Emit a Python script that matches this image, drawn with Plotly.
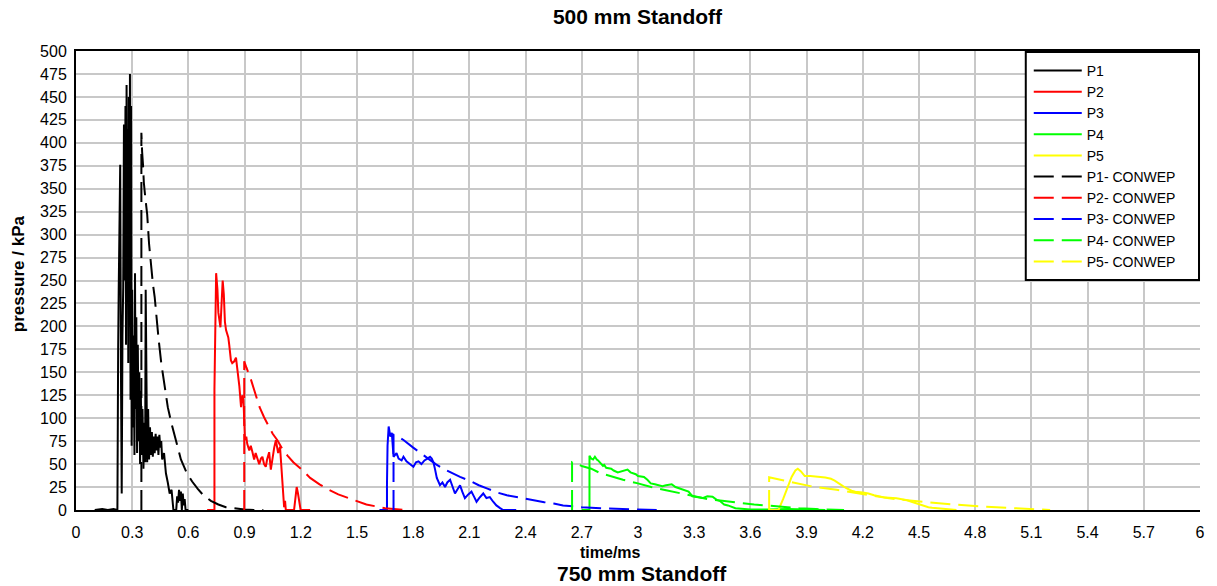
import plotly.graph_objects as go

# ---------------- data (time in ms, pressure in kPa) ----------------
p1_t = [0.10, 0.14, 0.17, 0.20, 0.221, 0.222, 0.225, 0.228, 0.231, 0.236, 0.240, 0.244, 0.248, 0.252,
        0.256, 0.260, 0.264, 0.267, 0.270, 0.273, 0.276, 0.279, 0.282, 0.285, 0.288, 0.291, 0.294,
        0.297, 0.300, 0.304, 0.308, 0.312, 0.315, 0.318, 0.322, 0.326, 0.330, 0.334, 0.338, 0.342,
        0.346, 0.350, 0.355, 0.360, 0.365, 0.369, 0.372, 0.376, 0.380, 0.385, 0.390, 0.395, 0.400,
        0.405, 0.410, 0.415, 0.420, 0.425, 0.430, 0.435, 0.440, 0.445, 0.450, 0.455, 0.460, 0.470,
        0.480, 0.490, 0.500, 0.510, 0.515, 0.520, 0.535, 0.540, 0.545, 0.550, 0.555, 0.560, 0.565,
        0.570, 0.575, 0.580, 0.585, 0.600]
p1_p = [0, 1, 0, 1, 0, 110, 175, 240, 309, 376, 150, 18, 190, 243,
        420, 250, 440, 180, 463, 230, 415, 160, 450, 200, 475, 120, 440,
        70, 240, 90, 190, 60, 258, 110, 210, 62, 180, 75, 150, 50,
        130, 60, 110, 45, 95, 52, 240, 140, 52, 110, 55, 90, 60,
        85, 58, 80, 62, 83, 65, 80, 60, 82, 68, 75, 55, 62,
        40, 30, 18, 22, 5, 0, 0, 15, 8, 22, 10, 20, 0,
        18, 5, 12, 0, 0]

p2_t = [0.70, 0.739, 0.739, 0.748, 0.755, 0.760, 0.771, 0.776, 0.783, 0.789, 0.795, 0.801, 0.808,
        0.813, 0.818, 0.827, 0.834, 0.845, 0.854, 0.863, 0.872, 0.881, 0.888, 0.894, 0.902, 0.909,
        0.914, 0.925, 0.933, 0.942, 0.951, 0.959, 0.969, 0.978, 0.987, 0.995, 1.004, 1.013, 1.020,
        1.031, 1.040, 1.047, 1.058, 1.067, 1.073, 1.079, 1.089, 1.100, 1.111, 1.116, 1.120, 1.164,
        1.172, 1.178, 1.185, 1.193, 1.199, 1.250]
p2_p = [0, 0, 131, 258, 240, 215, 199, 230, 250, 235, 205, 196, 192,
        188, 180, 163, 160, 162, 166, 152, 135, 112, 125, 120, 76, 80,
        72, 65, 70, 63, 55, 62, 54, 50, 56, 58, 50, 47, 55,
        63, 44, 55, 68, 76, 70, 62, 69, 40, 3, 10, 0, 0,
        15, 25, 18, 5, 0, 0]

p3_t = [1.62, 1.660, 1.660, 1.663, 1.669, 1.674, 1.678, 1.686, 1.695, 1.711, 1.722, 1.738, 1.748,
        1.764, 1.780, 1.801, 1.815, 1.828, 1.844, 1.860, 1.876, 1.890, 1.899, 1.908, 1.917, 1.926,
        1.943, 1.956, 1.970, 1.982, 1.997, 2.009, 2.023, 2.035, 2.050, 2.062, 2.076, 2.094, 2.111,
        2.126, 2.138, 2.152, 2.174, 2.191, 2.209, 2.227, 2.244, 2.264, 2.280, 2.350]
p3_p = [0, 0, 27, 70, 91, 85, 80, 84, 58, 62, 56, 54, 58,
        53, 50, 47, 52, 53, 50, 54, 56, 58, 56, 52, 44, 35,
        27, 30, 25, 30, 33, 25, 18, 22, 27, 20, 13, 17, 20,
        14, 9, 13, 18, 13, 14, 9, 5, 2, 0, 0]

p4_t = [2.70, 2.741, 2.741, 2.75, 2.76, 2.77, 2.78, 2.787, 2.80, 2.813, 2.82, 2.83, 2.857, 2.87,
        2.892, 2.91, 2.944, 2.96, 2.988, 3.00, 3.032, 3.05, 3.068, 3.09, 3.13, 3.15, 3.18, 3.20,
        3.24, 3.27, 3.29, 3.32, 3.345, 3.37, 3.398, 3.42, 3.436, 3.46, 3.48, 3.52, 3.555, 3.60,
        3.70, 3.80, 3.90, 4.00]
p4_p = [0, 0, 59, 56, 55, 58, 55, 54, 51, 48, 49, 46, 45, 43,
        41, 42, 44, 41, 39, 37, 36, 33, 29, 28, 26, 27, 28, 25,
        22.5, 20, 15, 14, 13, 15, 14.5, 11, 10, 6, 5, 2, 1, 0.5,
        0.5, 1, 0.5, 0]

p5_t = [3.70, 3.750, 3.775, 3.80, 3.82, 3.84, 3.853, 3.87, 3.89, 3.92, 3.95, 3.98, 4.00, 4.03,
        4.05, 4.08, 4.11, 4.14, 4.16, 4.20, 4.23, 4.26, 4.29, 4.32, 4.38, 4.43, 4.46, 4.50,
        4.55, 4.57, 4.63, 4.65, 4.70]
p5_p = [0, 0, 12, 26, 36, 43, 45, 42, 37, 37, 36.5, 36, 35.5, 34,
        32, 28, 24, 21, 20, 19, 18, 16, 14.5, 13.5, 12.7, 11, 9, 6,
        3, 2.5, 1, 0.5, 0]

c1_t = [0.349, 0.349, 0.353, 0.358, 0.362, 0.37, 0.38, 0.39, 0.40, 0.41, 0.42, 0.43, 0.44, 0.455,
        0.47, 0.49, 0.51, 0.53, 0.56, 0.59, 0.62, 0.65, 0.68, 0.72, 0.76, 0.80, 0.85, 0.90, 0.95, 1.00]
c1_p = [0, 411, 390, 375, 357, 340, 322, 290, 265, 247, 232, 205, 188, 160,
        138, 112, 94, 78, 55, 41, 31, 23, 16, 10, 6, 3, 1.5, 0.5, 0, 0]

c2_t = [0.898, 0.898, 0.91, 0.934, 0.96, 0.98, 1.004, 1.03, 1.05, 1.075, 1.10, 1.13, 1.16, 1.20,
        1.25, 1.30, 1.35, 1.40, 1.49, 1.55, 1.65, 1.72, 1.75]
c2_p = [0, 162, 155, 142, 125, 112, 101, 91, 83, 76, 67, 59, 52, 45,
        35, 28, 22, 17, 10, 6, 2, 1, 0]

c3_t = [1.695, 1.695, 1.72, 1.75, 1.80, 1.84, 1.88, 1.92, 1.96, 2.00, 2.05, 2.10, 2.15, 2.20,
        2.25, 2.30, 2.35, 2.40, 2.45, 2.50, 2.55, 2.60, 2.65, 2.70, 2.80, 2.90, 3.00, 3.10]
c3_p = [0, 82, 80, 76, 68, 62, 55, 50, 45, 41, 36, 32, 27, 23,
        19, 16, 14, 12, 10, 8.5, 7, 5, 4, 3, 2, 1, 0.5, 0]

c4_t = [2.648, 2.648, 2.70, 2.75, 2.80, 2.85, 2.92, 3.00, 3.07, 3.15, 3.23, 3.30, 3.37, 3.45,
        3.53, 3.62, 3.70, 3.78, 3.86, 3.95, 4.05, 4.10]
c4_p = [0, 52, 48, 45, 40, 37, 33, 29, 25, 21.5, 18, 15, 12, 10,
        8, 6, 4.7, 3, 2, 1, 0.3, 0]

c5_t = [3.70, 3.70, 3.76, 3.83, 3.92, 4.06, 4.18, 4.34, 4.52, 4.68, 4.86, 5.05, 5.20]
c5_p = [0, 35.6, 33, 30, 26, 22, 18, 12.7, 9, 6, 3.6, 1.8, 0]

names_exp = ["P1", "P2", "P3", "P4", "P5"]
names_con = ["P1- CONWEP", "P2- CONWEP", "P3- CONWEP", "P4- CONWEP", "P5- CONWEP"]
colors = ["#000000", "#ff0000", "#0000ff", "#00ff00", "#ffff00"]

x_ticks = [round(0.3 * i, 1) for i in range(21)]
x_tick_text = ["0", "0.3", "0.6", "0.9", "1.2", "1.5", "1.8", "2.1", "2.4", "2.7", "3",
               "3.3", "3.6", "3.9", "4.2", "4.5", "4.8", "5.1", "5.4", "5.7", "6"]

exp_data = [(p1_t, p1_p), (p2_t, p2_p), (p3_t, p3_p), (p4_t, p4_p), (p5_t, p5_p)]
con_data = [(c1_t, c1_p), (c2_t, c2_p), (c3_t, c3_p), (c4_t, c4_p), (c5_t, c5_p)]

FONT = "Liberation Sans, Arial, sans-serif"

fig = go.Figure()
for (t, p), n, c in zip(exp_data, names_exp, colors):
    fig.add_trace(go.Scatter(x=t, y=p, mode="lines", name=n,
                             line=dict(color=c, width=2)))
for (t, p), n, c in zip(con_data, names_con, colors):
    fig.add_trace(go.Scatter(x=t, y=p, mode="lines", name=n,
                             line=dict(color=c, width=2, dash="20px,8px")))

W, H = 1217, 586
L, R, T, B = 76, 1205, 51, 510
pw, ph = R - L, B - T


def px_x(px):
    return (px - L) / pw


def px_y(py):
    return (B - py) / ph


fig.update_layout(
    width=W, height=H,
    margin=dict(l=L, r=W - R, t=T, b=H - B, pad=0),
    paper_bgcolor="white", plot_bgcolor="white",
    font=dict(family=FONT, color="black"),
    title=dict(text="<b>500 mm Standoff</b>", x=px_x(640), xref="paper", xanchor="center",
               y=1 - 17 / H, yref="container", yanchor="middle",
               font=dict(size=21, family=FONT, color="black")),
    showlegend=True,
    legend=dict(x=px_x(1033), y=px_y(55), xanchor="left", yanchor="top",
                bgcolor="rgba(0,0,0,0)", borderwidth=0,
                font=dict(size=14, family=FONT, color="black"),
                itemwidth=48, traceorder="normal"),
    xaxis=dict(range=[0, 6], tickvals=x_ticks, ticktext=x_tick_text,
               showgrid=True, gridcolor="#c8c8c8", gridwidth=2,
               showline=True, linecolor="black", linewidth=2, mirror=True,
               ticks="", zeroline=False, ticklabelstandoff=7,
               tickfont=dict(size=16, family=FONT, color="black")),
    yaxis=dict(range=[0, 500], dtick=25, tick0=0,
               showgrid=True, gridcolor="#c8c8c8", gridwidth=2,
               showline=True, linecolor="black", linewidth=2, mirror=False,
               ticks="", zeroline=False, ticklabelstandoff=4,
               tickfont=dict(size=16, family=FONT, color="black")),
    shapes=[dict(type="rect", xref="paper", yref="paper",
                 x0=px_x(1030), x1=px_x(1204), y0=px_y(280), y1=px_y(52),
                 line=dict(color="black", width=2), fillcolor="white", layer="above")],
    annotations=[
        dict(text="<b>time/ms</b>", xref="paper", yref="paper", x=px_x(613), y=px_y(552),
             xanchor="center", yanchor="middle", showarrow=False,
             font=dict(size=16, family=FONT, color="black")),
        dict(text="<b>750 mm Standoff</b>", xref="paper", yref="paper", x=px_x(645), y=px_y(573),
             xanchor="center", yanchor="middle", showarrow=False,
             font=dict(size=21, family=FONT, color="black")),
        dict(text="<b>pressure / kPa</b>", xref="paper", yref="paper", x=px_x(18), y=px_y(274),
             xanchor="center", yanchor="middle", showarrow=False, textangle=-90,
             font=dict(size=17, family=FONT, color="black")),
    ],
)

fig.write_html("out.html")
